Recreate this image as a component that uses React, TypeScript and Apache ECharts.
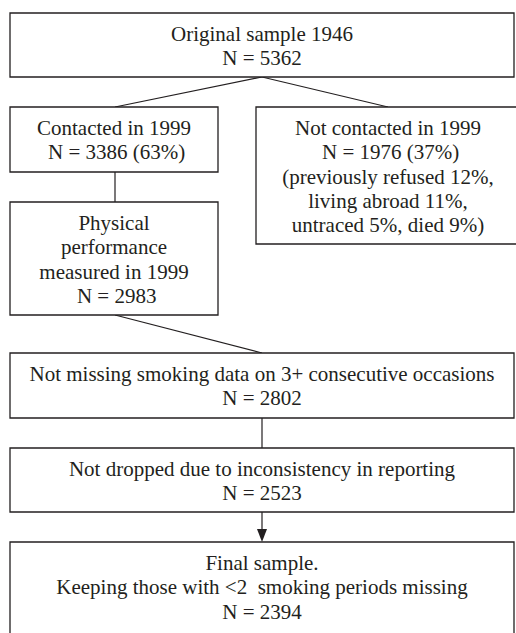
import React, { useEffect, useRef } from "react";
import * as echarts from "echarts";

const originalText = ["Original sample 1946", "N = 5362"];
const contactedText = ["Contacted in 1999", " N = 3386 (63%)"];
const notContactedText = [
  "Not contacted in 1999",
  " N = 1976 (37%)",
  "(previously refused 12%,",
  "living abroad 11%,",
  "untraced 5%, died 9%)",
];
const physicalText = ["Physical", "performance", "measured in 1999", " N = 2983"];
const smokingText = ["Not missing smoking data on 3+ consecutive occasions", "N = 2802"];
const droppedText = ["Not dropped due to inconsistency in reporting", "N = 2523"];
const finalText = ["Final sample.", "Keeping those with <2  smoking periods missing", "N = 2394"];

const INK = "#231f20";
const FONT = "Liberation Serif";
const FS = 21;
const LH = 24.3;

function box(x: number, y: number, w: number, h: number, lines: string[], firstY: number): any[] {
  const els: any[] = [
    {
      type: "rect",
      shape: { x, y, width: w, height: h },
      style: { fill: "#fff", stroke: INK, lineWidth: 1.3 },
    },
  ];
  lines.forEach((t, i) => {
    els.push({
      type: "text",
      x: x + w / 2,
      y: firstY + i * LH,
      style: {
        text: t,
        fill: INK,
        fontFamily: FONT,
        fontSize: FS,
        align: "center",
        verticalAlign: "middle",
      },
    });
  });
  return els;
}

function seg(x1: number, y1: number, x2: number, y2: number): any {
  return {
    type: "line",
    shape: { x1, y1, x2, y2 },
    style: { stroke: INK, lineWidth: 1.2 },
  };
}

export default function App() {
  const ref = useRef<HTMLDivElement>(null);
  useEffect(() => {
    if (!ref.current) return;
    const chart = echarts.init(ref.current, null, { renderer: "svg" });
    const elements: any[] = [
      seg(262, 77, 115, 107),
      seg(262, 77, 388, 107),
      seg(115, 172, 115, 202),
      seg(115, 315, 262, 353),
      seg(262, 418, 262, 448),
      seg(262, 512, 262, 530),
      {
        type: "polygon",
        shape: { points: [[257, 529], [267, 529], [262, 542]] },
        style: { fill: INK },
      },
      ...box(10, 13, 504, 64, originalText, 33.5),
      ...box(10, 107, 208, 65, contactedText, 128),
      ...box(256, 107, 264, 137, notContactedText, 128),
      ...box(10, 202, 208, 113, physicalText, 223),
      ...box(10, 353, 504, 65, smokingText, 374),
      ...box(10, 448, 504, 64, droppedText, 469),
      ...box(10, 542, 504, 120, finalText, 563),
    ];
    chart.setOption({
      animation: false,
      graphic: { elements },
    });
    return () => chart.dispose();
  }, []);
  return (
    <div
      ref={ref}
      style={{ position: "fixed", left: 0, top: 0, width: 516, height: 633, background: "#fff" }}
    />
  );
}
